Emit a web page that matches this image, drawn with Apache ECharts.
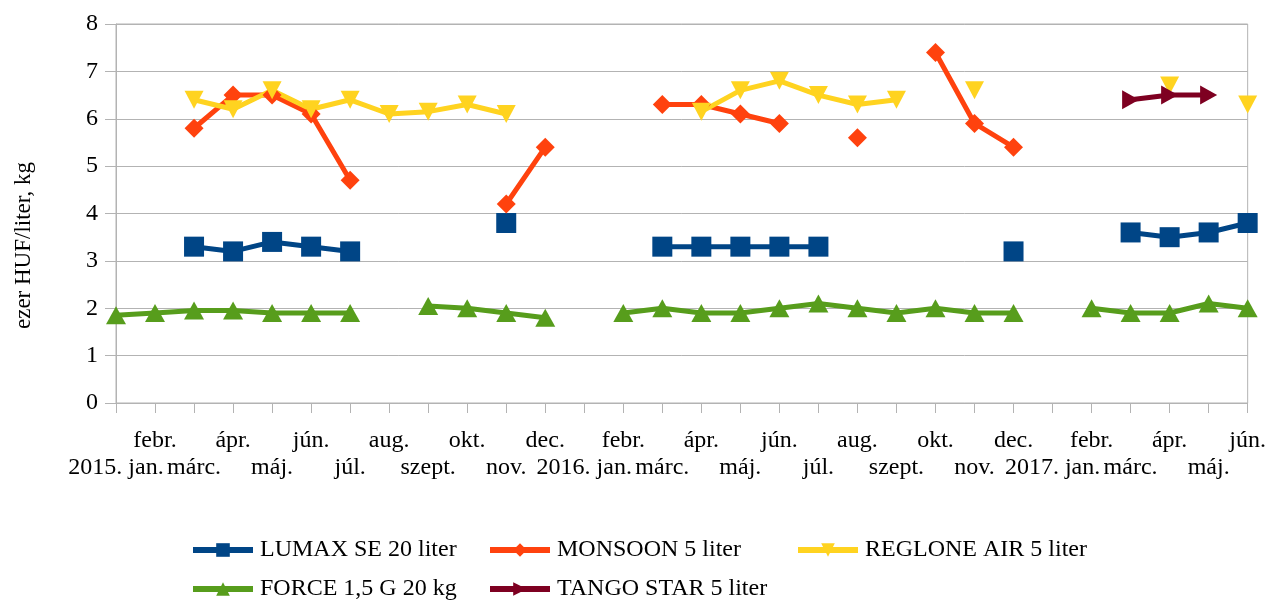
<!DOCTYPE html>
<html>
<head>
<meta charset="utf-8">
<script src="https://cdn.jsdelivr.net/npm/echarts@6/dist/echarts.min.js"></script>
<style>
html,body{margin:0;padding:0;background:#fff;}
#chart{width:1269px;height:600px;}
</style>
</head>
<body>
<div id="chart"></div>
<script>
const categories = ['2015. jan.','febr.','márc.','ápr.','máj.','jún.','júl.','aug.','szept.','okt.','nov.','dec.',
  '2016. jan.','febr.','márc.','ápr.','máj.','jún.','júl.','aug.','szept.','okt.','nov.','dec.',
  '2017. jan.','febr.','márc.','ápr.','máj.','jún.'];
const yTicks = [0,1,2,3,4,5,6,7,8];
const lumax   = [null,null,3.3,3.2,3.4,3.3,3.2,null,null,null,3.8,null,null,null,3.3,3.3,3.3,3.3,3.3,null,null,null,null,3.2,null,null,3.6,3.5,3.6,3.8];
const monsoon = [null,null,5.8,6.5,6.5,6.1,4.7,null,null,null,4.2,5.4,null,null,6.3,6.3,6.1,5.9,null,5.6,null,7.4,5.9,5.4,null,null,null,null,null,null];
const reglone = [null,null,6.4,6.2,6.6,6.2,6.4,6.1,6.15,6.3,6.1,null,null,null,null,6.15,6.6,6.8,6.5,6.3,6.4,null,6.6,null,null,null,null,6.7,null,6.3];
const force   = [1.85,1.9,1.95,1.95,1.9,1.9,1.9,null,2.05,2.0,1.9,1.8,null,1.9,2.0,1.9,1.9,2.0,2.1,2.0,1.9,2.0,1.9,1.9,null,2.0,1.9,1.9,2.1,2.0];
const tango   = [null,null,null,null,null,null,null,null,null,null,null,null,null,null,null,null,null,null,null,null,null,null,null,null,null,null,6.4,6.5,6.5,null];
const seriesNames = ['LUMAX SE 20 liter','MONSOON 5 liter','REGLONE AIR 5 liter','FORCE 1,5 G 20 kg','TANGO STAR 5 liter'];

const FONT = 'Liberation Serif';
const FS = 24;
const chart = echarts.init(document.getElementById('chart'), null, {renderer:'canvas'});

function mkSeries(name, data, color, symbol, size, rotate){
  return {
    name: name, type: 'line', data: data,
    symbol: symbol, symbolSize: size, symbolRotate: rotate || 0,
    showSymbol: true, showAllSymbol: true, connectNulls: false,
    lineStyle: {color: color, width: 5},
    itemStyle: {color: color},
    emphasis: {disabled: true},
    animation: false
  };
}
function mkLegend(name, left, top){
  return {
    data: [name], left: left, top: top, orient: 'horizontal', padding: 0,
    itemWidth: 60, itemHeight: 17, itemGap: 0,
    lineStyle: {width: 6},
    textStyle: {fontFamily: FONT, fontSize: FS, color: '#000', lineHeight: 24, padding: [0, 0, 0, 2]},
    selectedMode: false
  };
}

chart.setOption({
  animation: false,
  backgroundColor: '#fff',
  grid: {left: 116, right: 21, top: 24, bottom: 197, show: true, borderColor: '#b3b3b3', borderWidth: 1, backgroundColor: 'transparent'},
  legend: [
    mkLegend(seriesNames[0], 190, 538),
    mkLegend(seriesNames[1], 487, 538),
    mkLegend(seriesNames[2], 795, 538),
    mkLegend(seriesNames[3], 190, 577),
    mkLegend(seriesNames[4], 487, 577)
  ],
  xAxis: {
    type: 'category', data: categories, boundaryGap: false,
    axisLine: {lineStyle: {color: '#b3b3b3', width: 1}},
    axisTick: {show: true, length: 10, interval: 0, lineStyle: {color: '#b3b3b3'}},
    splitLine: {show: false},
    axisLabel: {
      interval: 0, hideOverlap: false, margin: 24,
      fontFamily: FONT, fontSize: FS, color: '#000', lineHeight: 27,
      formatter: function(v, i){ return (i % 2 === 0) ? '\n' + v : v; }
    }
  },
  yAxis: {
    type: 'value', min: yTicks[0], max: yTicks[yTicks.length-1], interval: 1,
    name: 'ezer HUF/liter, kg', nameLocation: 'middle', nameGap: 81, nameRotate: 90,
    nameTextStyle: {fontFamily: FONT, fontSize: 23, color: '#000', padding: [0, 64, 0, 0]},
    axisLine: {show: true, lineStyle: {color: '#b3b3b3', width: 1}},
    axisTick: {show: true, length: 11, lineStyle: {color: '#b3b3b3'}},
    splitLine: {show: true, lineStyle: {color: '#b3b3b3', width: 1}},
    axisLabel: {margin: 18, fontFamily: FONT, fontSize: FS, color: '#000'}
  },
  series: [
    mkSeries(seriesNames[0], lumax, '#004586', 'rect', 20, 0),
    mkSeries(seriesNames[1], monsoon, '#ff420e', 'diamond', [19, 19], 0),
    mkSeries(seriesNames[2], reglone, '#ffd320', 'triangle', [19, 18], 180),
    mkSeries(seriesNames[3], force, '#579d1c', 'triangle', [20, 18], 0),
    mkSeries(seriesNames[4], tango, '#7e0021', 'triangle', [19, 17], -90)
  ]
});
</script>
</body>
</html>
